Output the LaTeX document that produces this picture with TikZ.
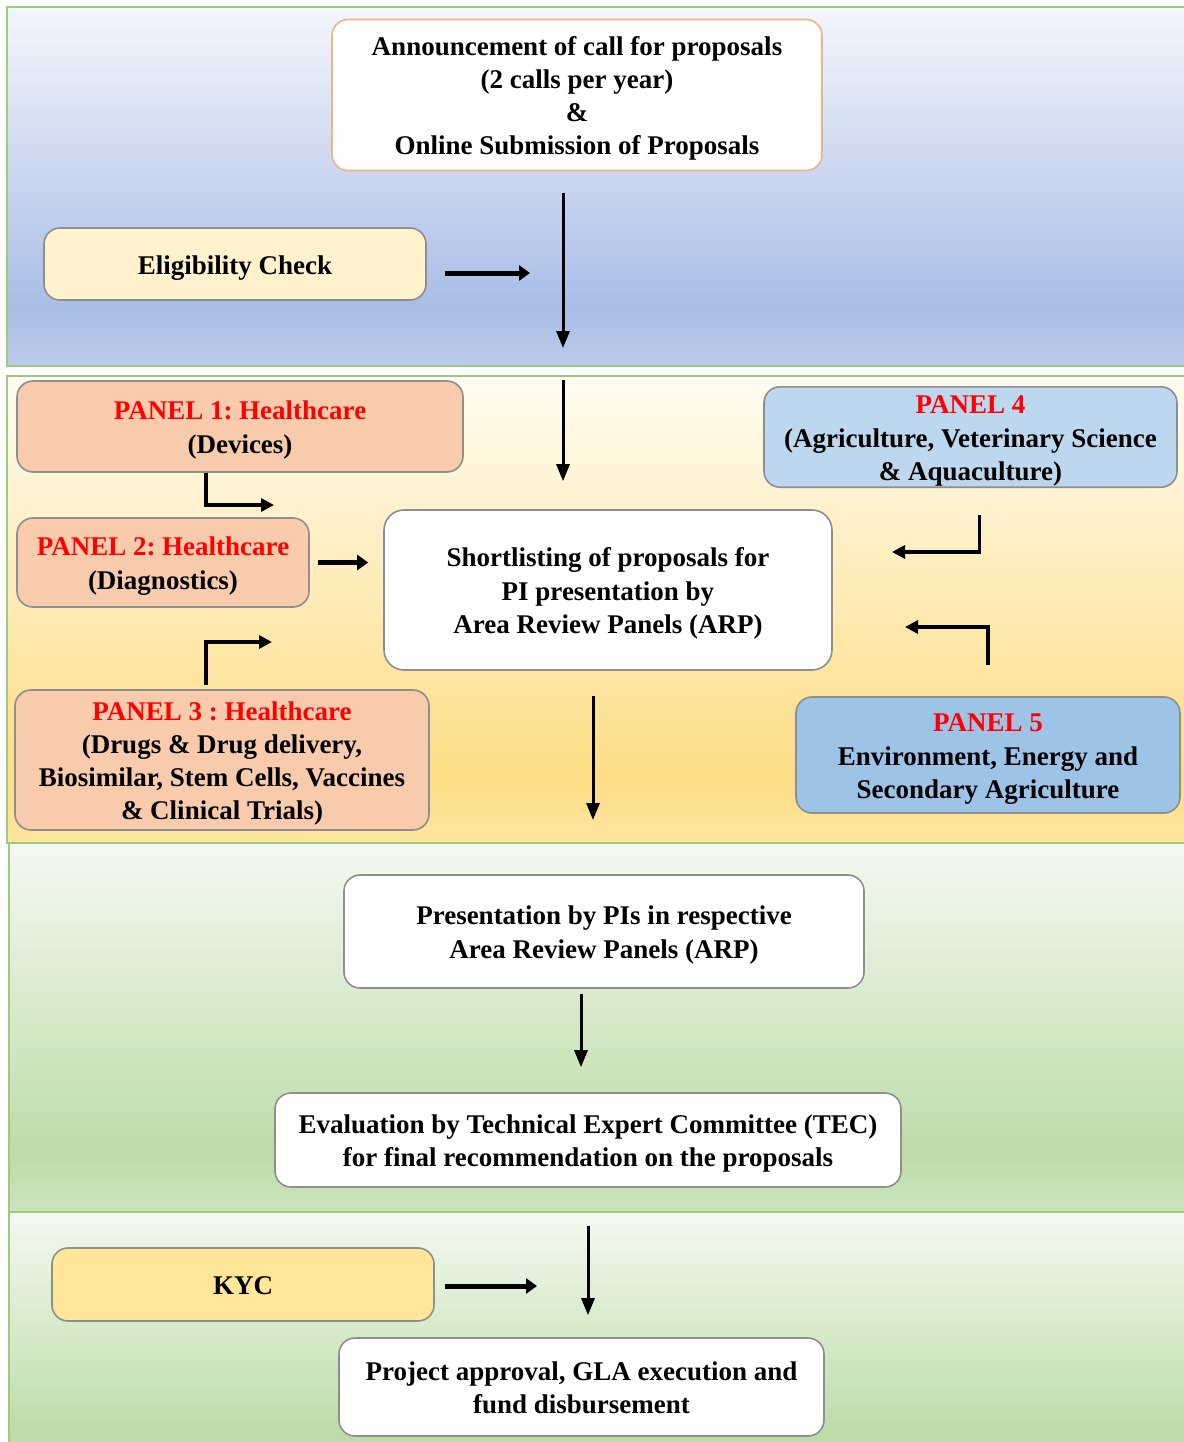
\documentclass[tikz,border=0pt]{standalone}
\usepackage{fontspec}
\setmainfont{Liberation Serif}
\usepackage{xcolor}
\usetikzlibrary{positioning}
\usetikzlibrary{arrows.meta}
\frenchspacing

\definecolor{bandline}{HTML}{9CCB80}
\definecolor{blueA}{HTML}{F3F6FC}
\definecolor{blueB}{HTML}{A9BDE6}
\definecolor{blueC}{HTML}{BCCBEA}
\definecolor{yellowA}{HTML}{FFFCF1}
\definecolor{yellowB}{HTML}{FDDD85}
\definecolor{yellowC}{HTML}{FEE6A0}
\definecolor{greenA}{HTML}{F5F9F1}
\definecolor{greenB}{HTML}{BDDCA9}
\definecolor{greenC}{HTML}{CCE4BD}
\definecolor{boxline}{HTML}{8E8E8E}
\definecolor{annline}{HTML}{F4B183}
\definecolor{eligfill}{HTML}{FFF2CC}
\definecolor{kycfill}{HTML}{FFE699}
\definecolor{healthfill}{HTML}{F8CBAD}
\definecolor{agrifill}{HTML}{BDD7EE}
\definecolor{envfill}{HTML}{9DC3E6}
\definecolor{panelred}{HTML}{FF0000}

\newcommand{\tstrut}{\rule{0pt}{13.5pt}}
\newcommand{\bstrut}{\rule[-3.5pt]{0pt}{3.5pt}}

\pgfdeclareverticalshading{blueband}{100bp}{color(0bp)=(blueC); color(25bp)=(blueC); color(33bp)=(blueB); color(75bp)=(blueA); color(100bp)=(blueA)}
\pgfdeclareverticalshading{yellowband}{100bp}{color(0bp)=(yellowC); color(25bp)=(yellowC); color(32bp)=(yellowB); color(75bp)=(yellowA); color(100bp)=(yellowA)}
\pgfdeclareverticalshading{greenband}{100bp}{color(0bp)=(greenC); color(25bp)=(greenC); color(33bp)=(greenB); color(75bp)=(greenA); color(100bp)=(greenA)}
\pgfdeclareverticalshading{greenlow}{100bp}{color(0bp)=(greenB); color(28bp)=(greenB); color(75bp)=(greenA); color(100bp)=(greenA)}

\begin{document}
\begin{tikzpicture}[x=0.5pt, y=-0.5pt,
	band/.style={shade, draw=bandline, line width=1.4pt},
	box/.style={rounded corners=8pt, draw=boxline, line width=0.8pt, align=center, inner xsep=2pt, inner ysep=0pt,
		font=\fontsize{13.5}{16.6}\selectfont\bfseries},
	arr/.style={line width=1.5pt, -{Triangle[length=8.5pt,width=6.5pt]}},
	arrthick/.style={line width=2.5pt, -{Triangle[length=5.5pt,width=7.5pt]}},
	elbowarr/.style={line width=1.6pt, miter limit=10, -{Triangle[length=6.5pt,width=6.5pt]}}]
	\useasboundingbox (0,0) rectangle (1184,1442);
	\fill[white] (0,0) rectangle (1184,1442);

	\draw[band, shading=blueband] (7,7) rectangle (1190,366);
	\draw[band, shading=yellowband] (7,376) rectangle (1190,843);
	\draw[band, shading=greenband] (9,843) rectangle (1190,1212);
	\draw[band, shading=greenlow] (9,1212) rectangle (1190,1446);

	\node[box, draw=annline, fill=white, minimum width=245pt, minimum height=75.5pt] (announce) at (577,95)
		{\tstrut Announcement of call for proposals\\(2 calls per year)\\\&\\Online Submission of Proposals\bstrut};
	\node[box, fill=eligfill, minimum width=191pt, minimum height=36pt] (elig) at (235,264) {\tstrut Eligibility Check\bstrut};

	\node[box, fill=healthfill, minimum width=223pt, minimum height=45.5pt] (panelone) at (240,426.5)
		{\tstrut{\color{panelred}PANEL 1: Healthcare}\\(Devices)\bstrut};
	\node[box, fill=healthfill, minimum width=146pt, minimum height=44.5pt] (paneltwo) at (163,562.5)
		{\tstrut{\color{panelred}PANEL 2: Healthcare}\\(Diagnostics)\bstrut};
	\node[box, fill=healthfill, minimum width=207pt, minimum height=70pt] (panelthree) at (222,760)
		{\tstrut{\color{panelred}PANEL 3 : Healthcare}\\(Drugs \& Drug delivery,\\Biosimilar, Stem Cells, Vaccines\\\& Clinical Trials)\bstrut};
	\node[box, fill=agrifill, minimum width=206.5pt, minimum height=50pt] (panelfour) at (970.5,437)
		{\tstrut{\color{panelred}PANEL 4}\\(Agriculture, Veterinary Science\\\& Aquaculture)\bstrut};
	\node[box, fill=envfill, minimum width=192pt, minimum height=58pt] (panelfive) at (988,755)
		{\tstrut{\color{panelred}PANEL 5}\\Environment, Energy and\\Secondary Agriculture\bstrut};
	\node[box, fill=white, rounded corners=10pt, minimum width=224pt, minimum height=80pt] (shortlist) at (608,590)
		{\tstrut Shortlisting of proposals for\\PI presentation by\\Area Review Panels (ARP)\bstrut};

	\node[box, fill=white, minimum width=260pt, minimum height=56.5pt] (present) at (604,931.5)
		{\tstrut Presentation by PIs in respective\\Area Review Panels (ARP)\bstrut};
	\node[box, fill=white, minimum width=313pt, minimum height=47pt] (evaluate) at (588,1140)
		{\tstrut Evaluation by Technical Expert Committee (TEC)\\for final recommendation on the proposals\bstrut};

	\node[box, fill=kycfill, minimum width=191pt, minimum height=36.5pt] (kyc) at (243,1284.5) {\tstrut KYC\bstrut};
	\node[box, fill=white, minimum width=242.5pt, minimum height=49pt] (approve) at (581.5,1387)
		{\tstrut Project approval, GLA execution and\\fund disbursement\bstrut};

	\coordinate (eligtip) at (530,273);
	\coordinate (callend) at (563,348);
	\coordinate (arpstart) at (563,380);
	\coordinate (p1tip) at (274,505);
	\coordinate (p3tip) at (272,642);
	\coordinate (p4tip) at (892,552);
	\coordinate (p5tip) at (905,627);
	\coordinate (shortend) at (593,820);
	\coordinate (kyctip) at (537,1286);

	\draw[arr, shorten <=11pt] (announce.south -| callend) -- (callend);
	\draw[arrthick, shorten <=9pt] (elig.east |- eligtip) -- (eligtip);
	\draw[arr, shorten >=14pt] (arpstart) -- (arpstart |- shortlist.north);
	\draw[elbowarr] ([xshift=-17pt]panelone.south) |- (p1tip);
	\draw[arrthick, shorten <=4pt, shorten >=7.5pt] (paneltwo.east) -- (paneltwo.east -| shortlist.west);
	\draw[elbowarr, shorten <=2pt] ([xshift=-8pt]panelthree.north) |- (p3tip);
	\draw[elbowarr, shorten <=13.5pt] ([xshift=4.5pt]panelfour.south) |- (p4tip);
	\draw[elbowarr, shorten <=15.5pt] (panelfive.north) |- (p5tip);
	\draw[arr, shorten <=12.5pt] (shortlist.south -| shortend) -- (shortend);
	\draw[arr, shorten <=2.5pt, shorten >=12.5pt] ([xshift=-11.5pt]present.south) -- ([xshift=-11.5pt]present.south |- evaluate.north);
	\draw[arr, shorten <=19pt, shorten >=11pt] (evaluate.south) -- (evaluate.south |- approve.north);
	\draw[arrthick, shorten <=5pt] (kyc.east |- kyctip) -- (kyctip);
\end{tikzpicture}
\end{document}
